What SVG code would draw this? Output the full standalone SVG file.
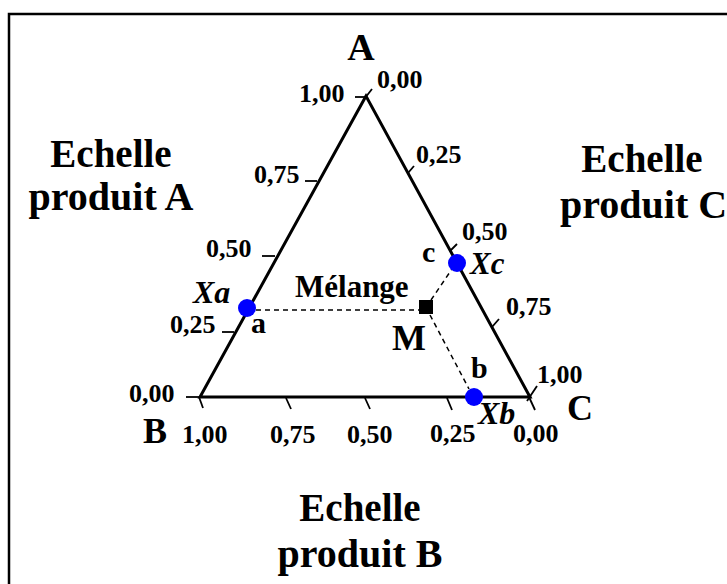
<svg xmlns="http://www.w3.org/2000/svg" width="727" height="584" viewBox="0 0 727 584">
<style>
.t{font-family:"Liberation Serif","Times New Roman",serif;font-weight:bold;fill:#000}
.s{font-size:26px}
.big{font-size:39px}
.big2{font-size:40px}
.it{font-style:italic}
.edge{stroke:#000;stroke-width:3;fill:none;stroke-linejoin:miter}
.tick{stroke:#000;stroke-width:1.8;fill:none}
.dash{stroke:#000;stroke-width:1.5;stroke-dasharray:5 4;fill:none}
.dot{fill:#0000ff}
</style>
<rect width="727" height="584" fill="#fff"/>
<rect x="9" y="14" width="800" height="700" fill="none" stroke="#000" stroke-width="2.5"/>

<g id="connectors">
  <line class="dash" x1="256" y1="310" x2="419" y2="310"/>
  <line class="dash" x1="431" y1="300" x2="452" y2="269"/>
  <line class="dash" x1="430" y1="315" x2="469" y2="389"/>
</g>

<g id="triangle">
  <polygon class="edge" points="366,96 200,397 530,397"/>
  <line class="tick" x1="355" y1="97" x2="366" y2="97"/>
  <line class="tick" x1="305" y1="181" x2="317" y2="181"/>
  <line class="tick" x1="262" y1="256" x2="275" y2="256"/>
  <line class="tick" x1="222" y1="332" x2="234" y2="332"/>
  <line class="tick" x1="186" y1="397" x2="200" y2="397"/>
  <line class="tick" x1="365" y1="98" x2="372" y2="89"/>
  <line class="tick" x1="408" y1="173" x2="414" y2="166"/>
  <line class="tick" x1="450" y1="251" x2="457" y2="244"/>
  <line class="tick" x1="492" y1="327" x2="499" y2="319"/>
  <line class="tick" x1="527" y1="401" x2="537" y2="386"/>
  <line class="tick" x1="199" y1="397" x2="203" y2="408"/>
  <line class="tick" x1="286" y1="398" x2="291" y2="409"/>
  <line class="tick" x1="365" y1="398" x2="370" y2="409"/>
  <line class="tick" x1="447" y1="398" x2="452" y2="410"/>
  <line class="tick" x1="529" y1="397" x2="535" y2="410"/>
</g>

<g id="vertex-labels">
  <text class="t" x="361" y="60" font-size="38" text-anchor="middle">A</text>
  <text class="t" x="155" y="443" font-size="36" text-anchor="middle">B</text>
  <text class="t" x="580" y="420" font-size="36" text-anchor="middle">C</text>
</g>

<g id="scale-A">
  <text class="t s" x="299" y="102">1,00</text>
  <text class="t s" x="254" y="183">0,75</text>
  <text class="t s" x="206" y="257">0,50</text>
  <text class="t s" x="170" y="333">0,25</text>
  <text class="t s" x="129" y="402">0,00</text>
</g>
<g id="scale-C">
  <text class="t s" x="377" y="88">0,00</text>
  <text class="t s" x="416" y="163">0,25</text>
  <text class="t s" x="462" y="240">0,50</text>
  <text class="t s" x="506" y="315">0,75</text>
  <text class="t s" x="537" y="383">1,00</text>
</g>
<g id="scale-B">
  <text class="t s" x="182" y="443">1,00</text>
  <text class="t s" x="270" y="443">0,75</text>
  <text class="t s" x="347" y="443">0,50</text>
  <text class="t s" x="430" y="442">0,25</text>
  <text class="t s" x="513" y="442">0,00</text>
</g>

<g id="title-A">
  <text class="t big" x="111" y="167" text-anchor="middle">Echelle</text>
  <text class="t big2" x="111" y="210" text-anchor="middle">produit A</text>
</g>
<g id="title-C">
  <text class="t big" x="642" y="172" text-anchor="middle">Echelle</text>
  <text class="t big2" x="560" y="218">produit C</text>
</g>
<g id="title-B">
  <text class="t big" x="360" y="521" text-anchor="middle">Echelle</text>
  <text class="t big2" x="360" y="567" text-anchor="middle">produit B</text>
</g>

<g id="point-a">
  <circle class="dot" cx="247" cy="308" r="9"/>
  <text class="t it" x="193" y="303" font-size="32">Xa</text>
  <text class="t" x="251" y="333" font-size="30">a</text>
</g>
<g id="point-c">
  <circle class="dot" cx="457" cy="263" r="9"/>
  <text class="t it" x="470" y="274" font-size="31">Xc</text>
  <text class="t" x="422" y="262" font-size="30">c</text>
</g>
<g id="point-b">
  <circle class="dot" cx="474" cy="397" r="9"/>
  <text class="t it" x="478" y="424" font-size="32">Xb</text>
  <text class="t" x="471" y="378" font-size="30">b</text>
</g>
<g id="point-M">
  <rect x="419" y="300" width="14" height="14" fill="#000"/>
  <text class="t" x="295" y="297" font-size="31">Mélange</text>
  <text class="t" x="392" y="350" font-size="36">M</text>
</g>
</svg>
